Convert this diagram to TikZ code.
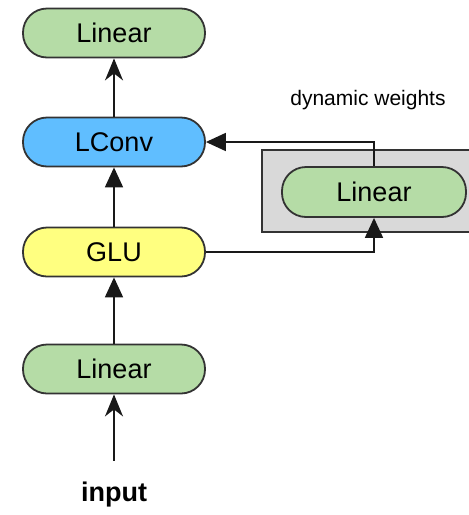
\documentclass[tikz,border=0pt]{standalone}
\usepackage{fontspec}
\setmainfont{Liberation Sans}
\usepackage{tikz}
\usetikzlibrary{arrows.meta}
\definecolor{lingreen}{RGB}{181,220,166}
\definecolor{convblue}{RGB}{96,190,255}
\definecolor{gluyellow}{RGB}{255,255,128}
\definecolor{boxgray}{RGB}{217,217,217}
\tikzstyle{layer} = [rectangle, rounded corners=24pt, minimum width=182pt, minimum height=49pt, text centered, draw=black!80, line width=1.8pt, font=\fontsize{27}{30}\selectfont]
\tikzstyle{linear} = [layer, fill=lingreen]
\tikzstyle{lconv} = [layer, fill=convblue]
\tikzstyle{glu} = [layer, fill=gluyellow]
\tikzstyle{wbox} = [rectangle, draw=black!80, line width=1.8pt, fill=boxgray, minimum width=218pt, minimum height=82pt]
\tikzstyle{arrow} = [line width=1.8pt, draw=black!90, -{Triangle[length=20pt,width=18pt]}]
\tikzstyle{openarrow} = [line width=1.8pt, draw=black!90, -{Stealth[length=22pt,width=18pt,inset=7pt]}]

\begin{document}
\begin{tikzpicture}[node distance=110pt]
\useasboundingbox (0,0) rectangle (469pt,-515pt);

\node (input) at (114pt,-495pt) {\fontsize{27}{30}\selectfont\bfseries input};
\node (lin1) [linear] at (114pt,-369pt) {Linear};
\node (glu) [glu, above of=lin1, node distance=117pt] {GLU};
\node (lconv) [lconv, above of=glu] {LConv};
\node (lin2) [linear, above of=lconv, node distance=109pt] {Linear};

% dynamic weight branch
\node (box) [wbox] at (371pt,-191pt) {};
\node (dyn) [linear, minimum width=184pt, minimum height=50pt] at (374pt,-192pt) {Linear};
\node (dynlabel) at (368pt,-100pt) {\fontsize{21}{24}\selectfont dynamic weights};

\draw [openarrow, shorten <=18pt] (input) -- (lin1);
\draw [arrow] (lin1) -- (glu);
\draw [arrow] (glu) -- (lconv);
\draw [openarrow] (lconv) -- (lin2);
\draw [arrow] (glu.east) -| (dyn.south);
\draw [arrow] (dyn.north) |- (lconv.east);
\end{tikzpicture}
\end{document}
